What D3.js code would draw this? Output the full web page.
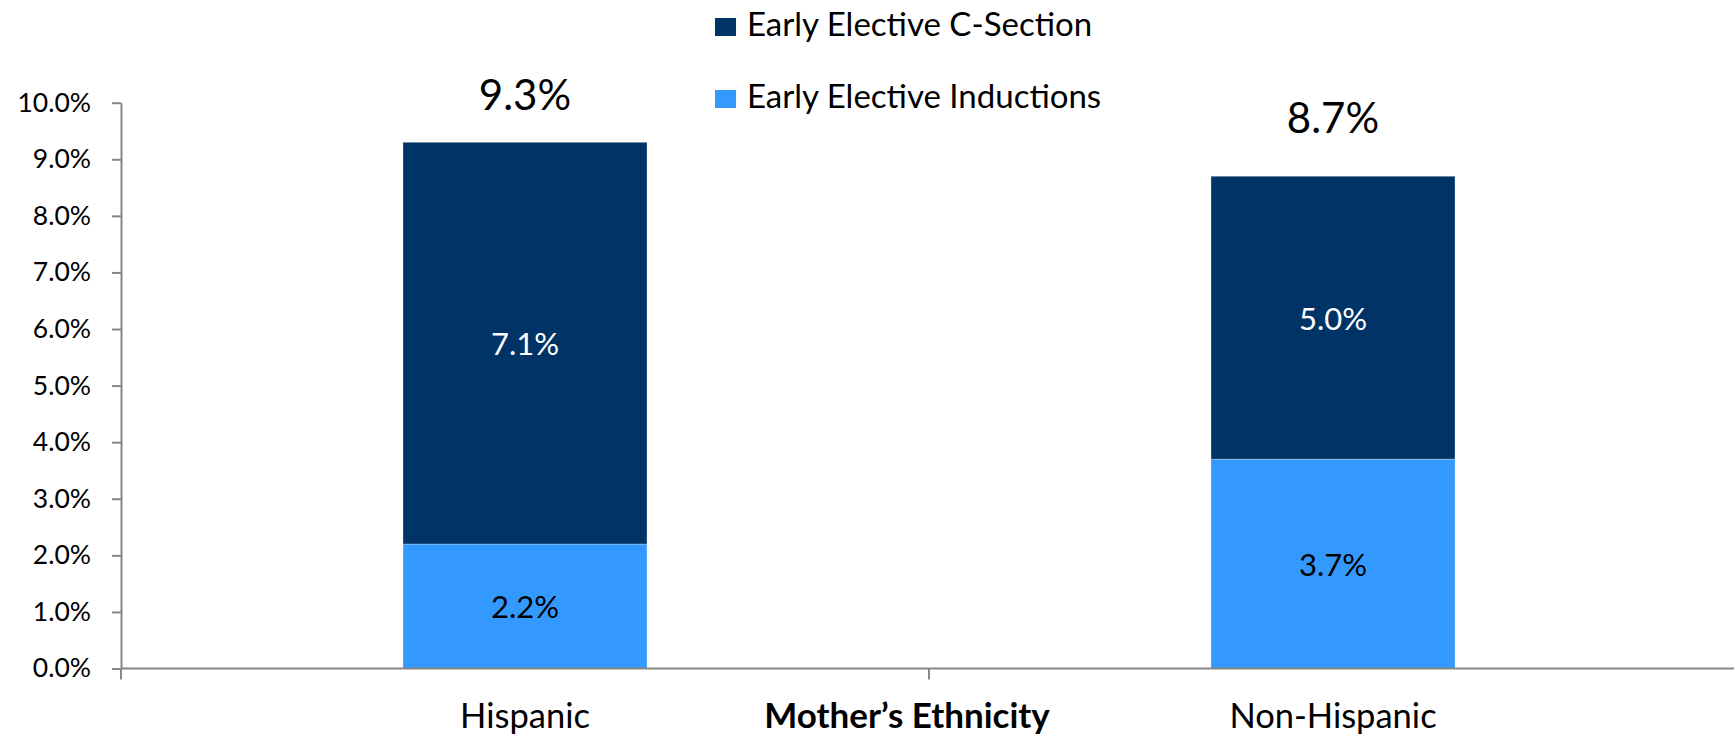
<!DOCTYPE html>
<html>
<head>
<meta charset="utf-8">
<script src="https://cdn.jsdelivr.net/npm/d3@7"></script>
<style>
  body { margin: 0; background: #fff; }
  text { font-family: Lato, "Open Sans", sans-serif; }
</style>
</head>
<body>
<div id="chart"></div>
<script>
// data
const categories = ["Hispanic", "Non-Hispanic"];
const seriesNames = ["Early Elective Inductions", "Early Elective C-Section"];
const inductions = [2.2, 3.7];
const cSections = [7.1, 5.0];
const totals = [9.3, 8.7];
const yTicks = [0, 1, 2, 3, 4, 5, 6, 7, 8, 9, 10];

chart();
function chart(){
  const width = 1734, height = 734;
  const colors = ["#3399ff", "#003366"];
  const axisColor = "#868686";

  const svg = d3.select("#chart")
    .append("svg")
      .attr("width", width)
      .attr("height", height);

  // scales
  const x = d3.scaleBand()
    .domain(categories)
    .range([121, 1737])
    .paddingInner(0.698)
    .paddingOuter(0.349);

  const y = d3.scaleLinear()
    .domain([0, 10])
    .range([668.5, 102.7]);

  // stack the two series
  const rows = categories.map((c, i) => ({cat: c, ind: inductions[i], cs: cSections[i]}));
  const stack = d3.stack().keys(["ind", "cs"]);
  const stacked = stack(rows);

  // y axis
  const yAxis = svg.append("g")
    .attr("transform", "translate(121,0)")
    .call(d3.axisLeft(y).tickValues(yTicks).tickSize(9).tickSizeOuter(0)
      .tickFormat(d => d3.format(".1f")(d) + "%"));
  yAxis.select(".domain").attr("stroke", axisColor).attr("stroke-width", 2);
  yAxis.selectAll(".tick line").attr("stroke", axisColor).attr("stroke-width", 2);
  yAxis.selectAll(".tick text")
    .attr("x", -30)
    .attr("fill", "#000")
    .style("font-size", "26.5px");

  // bars
  svg.append("g")
    .selectAll("g")
    .data(stacked)
    .join("g")
      .attr("fill", (d, i) => colors[i])
    .selectAll("rect")
    .data(d => d)
    .join("rect")
      .attr("x", d => x(d.data.cat))
      .attr("width", x.bandwidth())
      .attr("y", d => y(d[1]))
      .attr("height", d => y(d[0]) - y(d[1]))
      .attr("stroke", "#ffffff")
      .attr("stroke-opacity", 0.3)
      .attr("stroke-width", 1);

  // segment labels
  svg.append("g")
    .selectAll("g")
    .data(stacked)
    .join("g")
      .attr("fill", (d, i) => i === 1 ? "#ffffff" : "#000000")
    .selectAll("text")
    .data(d => d)
    .join("text")
      .attr("x", d => x(d.data.cat) + x.bandwidth() / 2)
      .attr("y", d => (y(d[0]) + y(d[1])) / 2)
      .attr("text-anchor", "middle")
      .attr("dominant-baseline", "central")
      .style("font-size", "31px")
      .text(d => d3.format(".1f")(d[1] - d[0]) + "%");

  // totals above bars (placed a bit unevenly in the original)
  const totalGap = [32, 43];
  svg.append("g")
    .selectAll("text")
    .data(totals)
    .join("text")
      .attr("x", (d, i) => x(categories[i]) + x.bandwidth() / 2)
      .attr("y", (d, i) => y(d) - totalGap[i])
      .attr("text-anchor", "middle")
      .style("font-size", "42px")
      .text(d => d3.format(".1f")(d) + "%");

  // x axis
  const xAxis = svg.append("g").attr("transform", `translate(0,${y(0)})`);
  xAxis.append("line")
    .attr("x1", 121).attr("x2", width)
    .attr("stroke", axisColor).attr("stroke-width", 2);
  xAxis.selectAll("line.tk")
    .data([121, (x.range()[0] + x.range()[1]) / 2])
    .join("line")
      .attr("class", "tk")
      .attr("x1", d => d).attr("x2", d => d)
      .attr("y1", 0).attr("y2", 11)
      .attr("stroke", axisColor).attr("stroke-width", 2);
  svg.append("g")
    .selectAll("text")
    .data(categories)
    .join("text")
      .attr("x", d => x(d) + x.bandwidth() / 2)
      .attr("y", 728)
      .attr("text-anchor", "middle")
      .style("font-size", "34.5px")
      .text(d => d);

  svg.append("text")
    .attr("x", 907)
    .attr("y", 728)
    .attr("text-anchor", "middle")
    .style("font-size", "35px")
    .style("font-weight", "bold")
    .text("Mother\u2019s Ethnicity");

  // legend
  const legendOrder = [1, 0];
  const legend = svg.append("g")
    .selectAll("g")
    .data(legendOrder)
    .join("g")
      .attr("transform", (d, i) => `translate(715,${36 + i * 72})`);
  legend.append("rect")
    .attr("x", 0).attr("y", -18)
    .attr("width", 21).attr("height", 18)
    .attr("fill", d => colors[d]);
  legend.append("text")
    .attr("x", 32).attr("y", 0)
    .style("font-size", "33px")
    .text(d => seriesNames[d]);
}
</script>
</body>
</html>
